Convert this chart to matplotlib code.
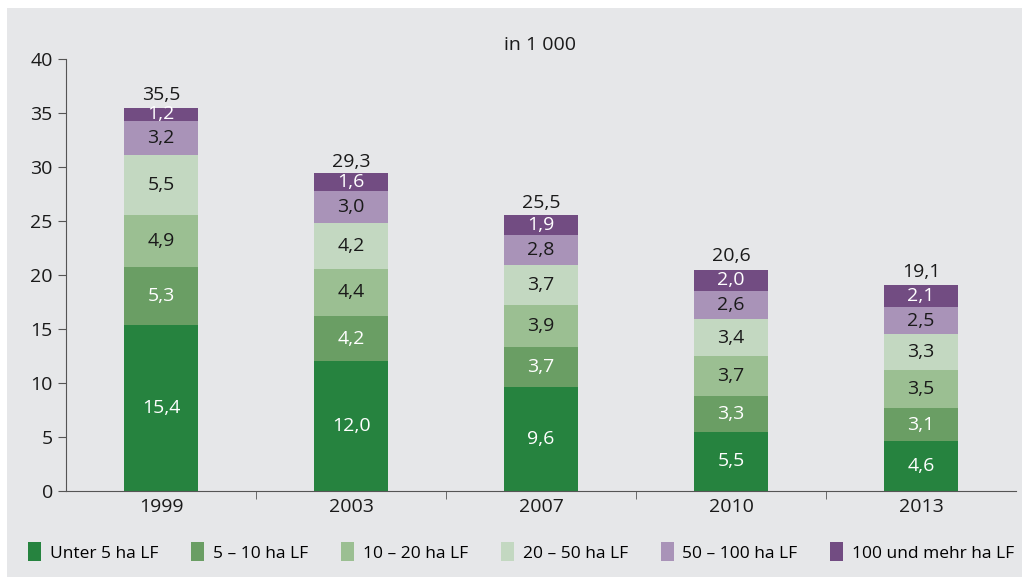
import matplotlib.pyplot as plt
from matplotlib.patches import Rectangle
import numpy as np

plt.rcParams['font.family'] = ['Open Sans', 'DejaVu Sans']

years = ["1999", "2003", "2007", "2010", "2013"]
unter5 = [15.4, 12.0, 9.6, 5.5, 4.6]
von5_10 = [5.3, 4.2, 3.7, 3.3, 3.1]
von10_20 = [4.9, 4.4, 3.9, 3.7, 3.5]
von20_50 = [5.5, 4.2, 3.7, 3.4, 3.3]
von50_100 = [3.2, 3.0, 2.8, 2.6, 2.5]
ab100 = [1.2, 1.6, 1.9, 2.0, 2.1]
totals = [35.5, 29.3, 25.5, 20.6, 19.1]

series = [unter5, von5_10, von10_20, von20_50, von50_100, ab100]
names = ["Unter 5 ha LF", "5 – 10 ha LF", "10 – 20 ha LF", "20 – 50 ha LF",
         "50 – 100 ha LF", "100 und mehr ha LF"]
colors = ["#26833f", "#6a9e64", "#9bbf92", "#c3d8c1", "#a993b8", "#724c82"]
txtcol = ["white", "white", "#1a1a1a", "#1a1a1a", "#1a1a1a", "white"]

bg = "#e6e7e9"
fs = 14
fig = plt.figure(figsize=(10.22, 5.77), dpi=100, facecolor="white")
fig.patches.append(Rectangle((7/1022, 0), 1, 1 - 8/577, transform=fig.transFigure,
                             facecolor=bg, edgecolor="none", zorder=-1))
ax = fig.add_axes([66/1022, 1 - 491/577, 950/1022, (491 - 59)/577])
ax.set_facecolor(bg)

x = np.arange(len(years))
bottom = np.zeros(len(years))
for vals, name, c, tc in zip(series, names, colors, txtcol):
    ax.bar(x, vals, 0.39, bottom=bottom, color=c, label=name)
    for xi, b, v in zip(x, bottom, vals):
        ax.text(xi, b + v / 2, f"{v:.1f}".replace(".", ","), ha="center", va="center",
                color=tc, fontsize=fs)
    bottom += np.array(vals)

for xi, t in zip(x, totals):
    ax.text(xi, t + 0.35, f"{t:.1f}".replace(".", ","), ha="center", va="bottom",
            color="#1a1a1a", fontsize=fs)

ax.set_xlim(-0.5, len(years) - 0.5)
ax.set_ylim(0, 40)
ax.set_yticks(range(0, 41, 5))
ax.tick_params(axis="y", labelsize=fs, length=6, color="#555555", labelcolor="#1a1a1a")
ax.set_xticks(x)
ax.set_xticklabels(years, fontsize=fs, color="#1a1a1a")
ax.set_xticks(np.arange(0.5, len(years) - 1, 1), minor=True)
ax.tick_params(axis="x", which="major", length=0, pad=5)
ax.tick_params(axis="x", which="minor", length=6, color="#555555")
for s in ["top", "right"]:
    ax.spines[s].set_visible(False)
for s in ["left", "bottom"]:
    ax.spines[s].set_color("#555555")

fig.text(540/1022, 1 - 45/577, "in 1 000", ha="center", va="center", fontsize=fs, color="#1a1a1a")

fig.legend(loc="center", bbox_to_anchor=(0.510, 1 - 552/577), ncol=6, frameon=False,
           fontsize=12.5, handlelength=0.75, handleheight=1.3, handletextpad=0.5,
           columnspacing=1.9)

fig.savefig("out.png", dpi=100, facecolor="white")
